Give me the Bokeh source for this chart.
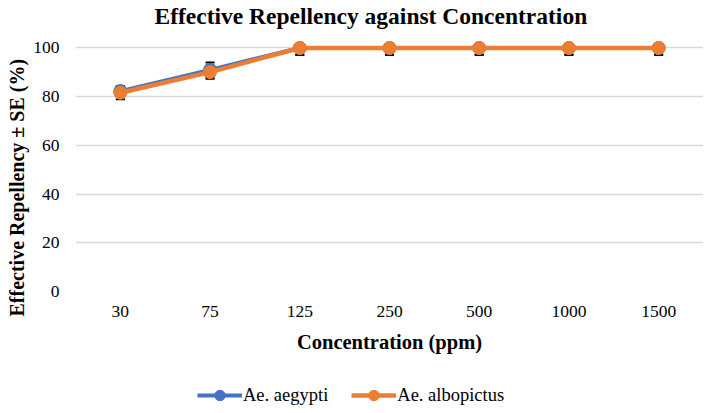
from bokeh.plotting import figure
from bokeh.layouts import column
from bokeh.models import (ColumnDataSource, FactorRange, Range1d, FixedTicker, Whisker, TeeHead,
                          Legend, LegendItem, Title)
from bokeh.embed import file_html
from bokeh.resources import INLINE

categories = ["30", "75", "125", "250", "500", "1000", "1500"]
aegypti = [82.3, 91.0, 100, 100, 100, 100, 100]
aegypti_se = [2.0, 3.0, 2.8, 2.8, 2.8, 2.8, 2.8]
albopictus = [81.6, 90.1, 100, 100, 100, 100, 100]
albopictus_se = [2.7, 2.7, 2.8, 2.8, 2.8, 2.8, 2.8]
y_ticks = [0, 20, 40, 60, 80, 100]
series_names = ["Ae. aegypti", "Ae. albopictus"]
Y_AXIS_MAX = 100  # the reference's value axis stops at 100, so error bars are cut there

BLUE = "#4472C4"
ORANGE = "#ED7D31"
SERIF = "Liberation Serif"

p = figure(frame_width=628, frame_height=263, x_range=FactorRange(*categories, range_padding=0),
           y_range=Range1d(0, 108), output_backend="svg", toolbar_location=None,
           min_border_left=74, min_border_right=0, min_border_top=0, min_border_bottom=80)
p.title.text = "Effective Repellency against Concentration"
p.title.align = "left"
p.title.offset = 79
p.title.standoff = 0
p.title.text_font = SERIF
p.title.text_font_size = "23.5px"
p.title.text_font_style = "bold"
p.title.text_color = "black"
p.outline_line_color = None

p.yaxis.ticker = FixedTicker(ticks=y_ticks)
p.yaxis.axis_line_color = None
p.yaxis.major_tick_line_color = None
p.yaxis.minor_tick_line_color = None
p.yaxis.major_tick_out = 0
p.yaxis.major_label_standoff = 16
p.yaxis.major_label_text_font = SERIF
p.yaxis.major_label_text_font_size = "17.5px"
p.yaxis.major_label_text_color = "black"

ylab = Title(text="Effective Repellency ± SE (%)", align="left", offset=-25, standoff=6,
             text_font=SERIF, text_font_size="20px", text_font_style="bold", text_color="black")
p.add_layout(ylab, "left")

p.xaxis.axis_line_color = None
p.xaxis.major_tick_line_color = None
p.xaxis.major_tick_out = 0
p.xaxis.major_label_standoff = 14
p.xaxis.major_label_text_font = SERIF
p.xaxis.major_label_text_font_size = "17.5px"
p.xaxis.major_label_text_color = "black"
p.xaxis.axis_label = "Concentration (ppm)"
p.xaxis.axis_label_text_font = SERIF
p.xaxis.axis_label_text_font_size = "20.5px"
p.xaxis.axis_label_text_font_style = "bold"
p.xaxis.axis_label_text_color = "black"
p.xaxis.axis_label_standoff = 11

p.xgrid.grid_line_color = None
p.ygrid.grid_line_color = "#D9D9D9"
p.ygrid.grid_line_width = 1.5


def make_source(vals, ses):
    return ColumnDataSource(dict(
        x=categories, y=vals,
        lo=[v - e for v, e in zip(vals, ses)],
        hi=[min(v + e, Y_AXIS_MAX) for v, e in zip(vals, ses)]))


src_a = make_source(aegypti, aegypti_se)
src_b = make_source(albopictus, albopictus_se)

for src in (src_a, src_b):
    w = Whisker(source=src, base="x", upper="hi", lower="lo", line_color="black", line_width=1.5,
                upper_head=TeeHead(size=9, line_color="black", line_width=2),
                lower_head=TeeHead(size=9, line_color="black", line_width=2))
    p.add_layout(w)

p.line("x", "y", source=src_a, line_color=BLUE, line_width=4)
p.scatter("x", "y", source=src_a, size=13, fill_color=BLUE, line_color=BLUE)
p.line("x", "y", source=src_b, line_color=ORANGE, line_width=4.5)
p.scatter("x", "y", source=src_b, size=13, fill_color=ORANGE, line_color=ORANGE)

# legend strip below the chart (its proxy glyphs sit outside its visible range)
leg = figure(width=702, height=40, x_range=Range1d(0, 1), y_range=Range1d(0, 1),
             output_backend="svg", toolbar_location=None, x_axis_location=None,
             y_axis_location=None, min_border=0)
leg.grid.visible = False
leg.outline_line_color = None
items = []
for name, color, lw in zip(series_names, [BLUE, ORANGE], [4, 4.5]):
    r1 = leg.line(x=[5, 6], y=[5, 6], line_color=color, line_width=lw)
    r2 = leg.scatter(x=[5], y=[5], size=13, fill_color=color, line_color=color)
    items.append(LegendItem(label=name, renderers=[r1, r2]))
legend = Legend(items=items, orientation="horizontal", location=(122, 3),
                label_text_font=SERIF, label_text_font_size="18.5px", label_text_color="black",
                glyph_width=45, glyph_height=26, spacing=23, border_line_color=None,
                background_fill_alpha=0, margin=0, padding=0, label_standoff=1)
leg.add_layout(legend, "center")

layout = column(p, leg, spacing=0)
open("out.html", "w").write(file_html(layout, INLINE))
